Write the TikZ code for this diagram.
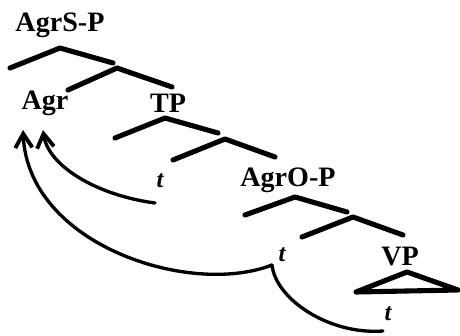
\documentclass[tikz,border=0pt]{standalone}
\usepackage{fontspec}
\setmainfont{Liberation Serif}
\usepackage{tikz}
\usetikzlibrary{arrows.meta}

\tikzset{
  lbl/.style={font=\fontsize{16}{18}\selectfont\bfseries, inner sep=0pt, anchor=base},
  trc/.style={font=\fontsize{14}{16}\selectfont\bfseries\itshape, inner sep=0pt, anchor=base},
  branch/.style={black, line width=2.9pt, line cap=round, line join=round},
  move/.style={black, line width=1.9pt, line cap=round},
  headtip/.style={-{Straight Barb[length=2.8mm,width=3.4mm,line width=2.2pt]}}
}

\begin{document}
\begin{tikzpicture}[x=0.02cm,y=0.02cm]
    \useasboundingbox (0,0) rectangle (460,335);
    \node[lbl] (agrsp) at (60,303) {AgrS-P};
    \node[lbl] (agr) at (45,225) {Agr};
    \node[lbl] (tp) at (168,222) {TP};
    \node[trc] (t1) at (160,147) {t};
    \node[lbl] (agrop) at (288,148) {AgrO-P};
    \node[trc] (t2) at (282,73) {t};
    \node[lbl] (vp) at (400,70) {VP};
    \node[trc] (t3) at (388,15) {t};
    \draw[branch] (10,267) -- (60,287) -- (113,272);
    \draw[branch] (68,245) -- (117,267) -- (172,248);
    \draw[branch] (115,197) -- (165,217) -- (218,202);
    \draw[branch] (173,175) -- (225,196) -- (275,178);
    \draw[branch] (245,120) -- (295,138) -- (347,123);
    \draw[branch] (302,98) -- (353,118) -- (403,100);
    \draw[branch] (356,43) -- (407,63) -- (458,45) -- cycle;
    \coordinate (s1) at (155,132);
    \coordinate (s2) at (272,70);
    \coordinate (s3) at (383,4);
    \coordinate (h1) at (43,205);
    \coordinate (h2) at (23,205);
    \draw[move,headtip] (s1) .. controls (95,140) and (48,170) .. (h1);
    \draw[move,headtip] (s2) .. controls (190,38) and (28,90) .. (h2);
    \draw[move] (s3) .. controls (330,0) and (276,35) .. (s2);
\end{tikzpicture}
\end{document}
